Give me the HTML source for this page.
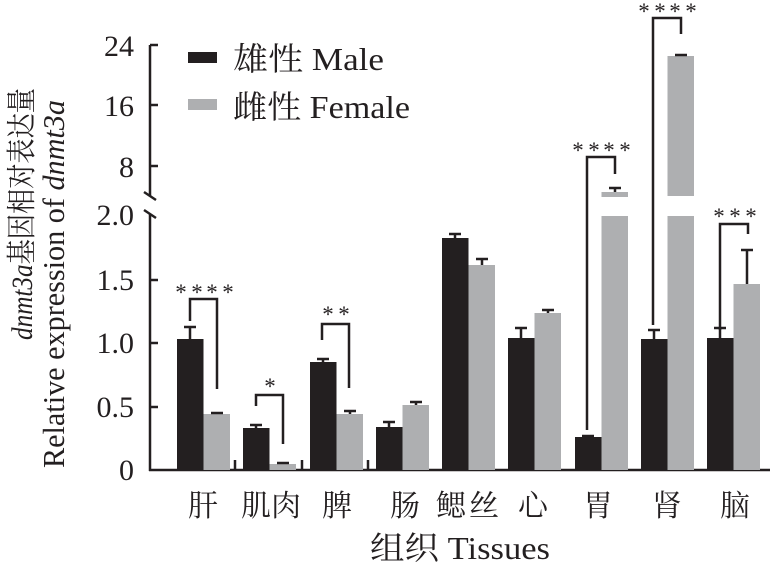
<!DOCTYPE html>
<html><head><meta charset="utf-8"><style>
html,body{margin:0;padding:0;background:#fff;}
svg{display:block;}
text{font-family:"Liberation Serif","Noto Serif CJK SC","Noto Sans CJK SC",serif;fill:#231f20;}
</style></head><body>
<svg width="771" height="564" viewBox="0 0 771 564" xmlns="http://www.w3.org/2000/svg">
<g stroke="#231f20" stroke-width="2.5" fill="none">
  <line x1="150" y1="45" x2="150" y2="196"/>
  <line x1="150" y1="214" x2="150" y2="471"/>
  <line x1="144" y1="192" x2="156" y2="200"/>
  <line x1="144" y1="210" x2="156" y2="218"/>
  <line x1="149" y1="470" x2="770" y2="470"/>
  <line x1="150" y1="45" x2="158" y2="45"/>
  <line x1="150" y1="105" x2="158" y2="105"/>
  <line x1="150" y1="166" x2="158" y2="166"/>
  <line x1="150" y1="280" x2="158" y2="280"/>
  <line x1="150" y1="343" x2="158" y2="343"/>
  <line x1="150" y1="407" x2="158" y2="407"/>
  <line x1="235" y1="460" x2="235" y2="470"/>
  <line x1="302" y1="460" x2="302" y2="470"/>
  <line x1="368" y1="460" x2="368" y2="470"/>
</g>
<g font-size="30" text-anchor="end">
  <text x="134" y="56">24</text>
  <text x="134" y="116">16</text>
  <text x="134" y="177">8</text>
  <text x="134" y="225">2.0</text>
  <text x="134" y="290">1.5</text>
  <text x="134" y="353">1.0</text>
  <text x="134" y="417">0.5</text>
  <text x="134" y="480">0</text>
</g>
<rect x="188" y="52" width="29" height="11" fill="#231f20"/>
<rect x="188" y="99" width="29" height="11" fill="#aeafb1"/>
<text x="233" y="70" font-size="32" textLength="151" lengthAdjust="spacingAndGlyphs">雄性 Male</text>
<text x="233" y="118" font-size="32" textLength="177" lengthAdjust="spacingAndGlyphs">雌性 Female</text>
<g fill="#231f20">
  <rect x="177" y="339" width="26.5" height="131"/>
  <rect x="243" y="428" width="26.5" height="42"/>
  <rect x="310" y="362" width="26.5" height="108"/>
  <rect x="376" y="427" width="26.5" height="43"/>
  <rect x="442" y="238" width="26.5" height="232"/>
  <rect x="508" y="338" width="26.5" height="132"/>
  <rect x="575" y="437" width="26.5" height="33"/>
  <rect x="641" y="339" width="26.5" height="131"/>
  <rect x="707" y="338" width="26.5" height="132"/>
</g>
<g fill="#aeafb1">
  <rect x="203.5" y="414" width="26.5" height="56"/>
  <rect x="269.5" y="464" width="26.5" height="6"/>
  <rect x="336.5" y="414" width="26.5" height="56"/>
  <rect x="402.5" y="405" width="26.5" height="65"/>
  <rect x="468.5" y="265" width="26.5" height="205"/>
  <rect x="534.5" y="313" width="26.5" height="157"/>
  <rect x="601.5" y="216" width="26.5" height="254"/>
  <rect x="601.5" y="192" width="26.5" height="5"/>
  <rect x="667.5" y="216" width="26.5" height="254"/>
  <rect x="667.5" y="56" width="26.5" height="140"/>
  <rect x="733.5" y="284" width="26.5" height="186"/>
</g>
<g stroke="#231f20" stroke-width="2.5" fill="none">
  <path d="M190 339V327M184 327H196"/>
  <path d="M217 414V413M211 413H223"/>
  <path d="M256 428V425M250 425H262"/>
  <path d="M283 464V463M277 463H289"/>
  <path d="M323 362V359M317 359H329"/>
  <path d="M350 414V411M344 411H356"/>
  <path d="M389 427V422M383 422H395"/>
  <path d="M416 405V402M410 402H422"/>
  <path d="M455 238V234M449 234H461"/>
  <path d="M482 265V259M476 259H488"/>
  <path d="M521 338V328M515 328H527"/>
  <path d="M548 313V310M542 310H554"/>
  <path d="M588 437V436M582 436H594"/>
  <path d="M615 192V188M609 188H621"/>
  <path d="M654 339V330M648 330H660"/>
  <path d="M681 56V55M675 55H687"/>
  <path d="M720 338V328M714 328H726"/>
  <path d="M747 284V250M741 250H753"/>
  <path d="M190 321V299H217V389"/>
  <path d="M256 406V395H283V444"/>
  <path d="M322 340V324H349V388"/>
  <path d="M587 430V157H615V174"/>
  <path d="M653 325V18H681V34"/>
  <path d="M720 330V224H748V234"/>
</g>
<g font-size="23" font-family="DejaVu Sans, sans-serif" fill="#231f20" text-anchor="middle">
  <text x="181" y="300">*</text><text x="197" y="300">*</text><text x="212" y="300">*</text><text x="228" y="300">*</text>
  <text x="270" y="394">*</text>
  <text x="328" y="322">*</text><text x="344" y="322">*</text>
  <text x="578" y="158">*</text><text x="594" y="158">*</text><text x="609" y="158">*</text><text x="625" y="158">*</text>
  <text x="644" y="19">*</text><text x="660" y="19">*</text><text x="675" y="19">*</text><text x="691" y="19">*</text>
  <text x="719" y="224">*</text><text x="735" y="224">*</text><text x="751" y="224">*</text>
</g>
<g font-size="30" text-anchor="middle">
  <text x="203" y="516">肝</text>
  <text x="256" y="516">肌</text>
  <text x="286" y="516">肉</text>
  <text x="337" y="516">脾</text>
  <text x="405" y="516">肠</text>
  <text x="451" y="516">鳃</text>
  <text x="484" y="516">丝</text>
  <text x="533" y="516">心</text>
  <text x="598" y="516">胃</text>
  <text x="667" y="516">肾</text>
  <text x="735" y="516">脑</text>
</g>
<text x="370" y="559" font-size="32" textLength="180" lengthAdjust="spacingAndGlyphs">组织 Tissues</text>
<text transform="translate(32,214) rotate(-90)" font-size="30" text-anchor="middle" textLength="252" lengthAdjust="spacingAndGlyphs"><tspan font-style="italic">dnmt3a</tspan>基因相对表达量</text>
<text transform="translate(64,284) rotate(-90)" font-size="31" text-anchor="middle" textLength="368" lengthAdjust="spacingAndGlyphs">Relative expression of <tspan font-style="italic">dnmt3a</tspan></text>
</svg>
</body></html>
